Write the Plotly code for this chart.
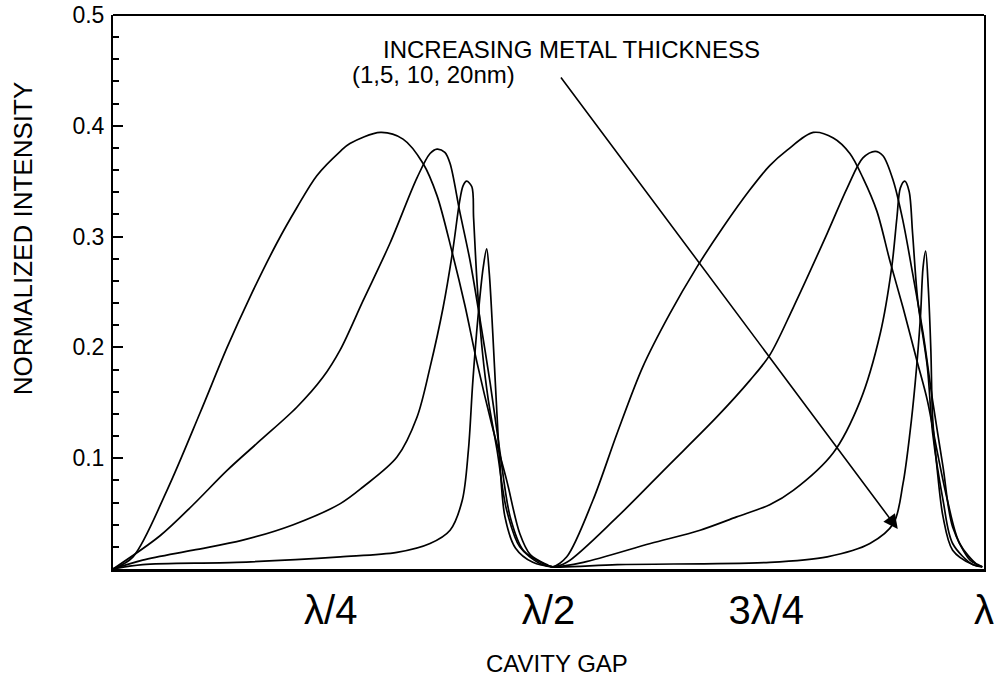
import plotly.graph_objects as go

# Cavity gap in units of wavelength (lambda), normalized intensity
gap_1nm = [0.0, 0.023, 0.062, 0.100, 0.131, 0.157, 0.188, 0.211, 0.234, 0.261, 0.272, 0.307,
           0.333, 0.356, 0.372, 0.389, 0.404, 0.418, 0.435, 0.452, 0.467, 0.479, 0.498, 0.505,
           0.521, 0.551, 0.579, 0.608, 0.639, 0.670, 0.700, 0.731, 0.754, 0.774, 0.804, 0.827,
           0.846, 0.861, 0.877, 0.892, 0.907, 0.923, 0.935, 0.946, 0.958, 0.972, 0.992, 0.998]
int_1nm = [0.0, 0.011, 0.071, 0.141, 0.200, 0.245, 0.294, 0.326, 0.355, 0.377, 0.384, 0.394,
           0.388, 0.366, 0.337, 0.287, 0.238, 0.186, 0.130, 0.080, 0.032, 0.013, 0.004, 0.002,
           0.011, 0.062, 0.123, 0.182, 0.230, 0.272, 0.308, 0.342, 0.364, 0.378, 0.394, 0.389,
           0.375, 0.353, 0.323, 0.278, 0.236, 0.188, 0.152, 0.107, 0.062, 0.023, 0.004, 0.002]

gap_5nm = [0.0, 0.054, 0.092, 0.131, 0.169, 0.211, 0.241, 0.261, 0.287, 0.318, 0.349, 0.364,
           0.372, 0.381, 0.387, 0.398, 0.410, 0.421, 0.433, 0.444, 0.456, 0.471, 0.494, 0.505,
           0.521, 0.579, 0.636, 0.693, 0.731, 0.754, 0.781, 0.820, 0.843, 0.861, 0.875, 0.884,
           0.896, 0.907, 0.918, 0.930, 0.941, 0.953, 0.964, 0.984, 0.993, 0.998]
int_5nm = [0.0, 0.030, 0.058, 0.089, 0.116, 0.146, 0.173, 0.198, 0.242, 0.294, 0.353, 0.375,
           0.379, 0.376, 0.366, 0.323, 0.278, 0.227, 0.168, 0.107, 0.047, 0.017, 0.005, 0.002,
           0.006, 0.047, 0.092, 0.137, 0.170, 0.193, 0.236, 0.303, 0.344, 0.371, 0.377, 0.373,
           0.350, 0.314, 0.267, 0.213, 0.152, 0.092, 0.038, 0.008, 0.004, 0.002]

gap_10nm = [0.0, 0.034, 0.092, 0.149, 0.207, 0.261, 0.287, 0.326, 0.349, 0.364, 0.379, 0.390,
            0.398, 0.402, 0.406, 0.412, 0.414, 0.418, 0.424, 0.431, 0.441, 0.452, 0.467, 0.490,
            0.505, 0.540, 0.617, 0.674, 0.716, 0.754, 0.781, 0.827, 0.858, 0.881, 0.894, 0.900,
            0.904, 0.909, 0.914, 0.918, 0.924, 0.935, 0.941, 0.953, 0.964, 0.987, 0.998]
int_10nm = [0.0, 0.008, 0.017, 0.026, 0.040, 0.059, 0.074, 0.101, 0.137, 0.182, 0.236, 0.287,
            0.332, 0.346, 0.350, 0.345, 0.317, 0.258, 0.197, 0.152, 0.107, 0.053, 0.020, 0.005,
            0.002, 0.006, 0.023, 0.035, 0.047, 0.058, 0.071, 0.105, 0.152, 0.213, 0.272, 0.317,
            0.344, 0.350, 0.341, 0.303, 0.242, 0.182, 0.123, 0.062, 0.023, 0.004, 0.002]

gap_20nm = [0.0, 0.034, 0.142, 0.261, 0.326, 0.364, 0.387, 0.401, 0.408, 0.413, 0.419, 0.425,
            0.429, 0.432, 0.436, 0.440, 0.444, 0.450, 0.462, 0.482, 0.505,
            0.579, 0.754, 0.820, 0.869, 0.896, 0.907, 0.915, 0.921, 0.927, 0.930, 0.933,
            0.936, 0.939, 0.941, 0.946, 0.953, 0.964, 0.987, 0.998]
int_20nm = [0.0, 0.004, 0.006, 0.011, 0.015, 0.023, 0.035, 0.062, 0.107, 0.168, 0.227, 0.272,
            0.289, 0.267, 0.213, 0.152, 0.098, 0.047, 0.019, 0.006, 0.002,
            0.004, 0.006, 0.011, 0.023, 0.041, 0.077, 0.123, 0.168, 0.227, 0.272, 0.287,
            0.254, 0.197, 0.137, 0.092, 0.047, 0.017, 0.004, 0.002]

series = [(gap_1nm, int_1nm), (gap_5nm, int_5nm), (gap_10nm, int_10nm), (gap_20nm, int_20nm)]

x_tickvals = [0.25, 0.5, 0.75, 1.0]
x_ticktext = ["λ/4", "λ/2", "3λ/4", "λ"]
y_tickvals = [0.1, 0.2, 0.3, 0.4, 0.5]
y_ticktext = ["0.1", "0.2", "0.3", "0.4", "0.5"]

FONT = "Liberation Sans, Arial, sans-serif"

fig = go.Figure()
for gx, gy in series:
    fig.add_trace(go.Scatter(x=gx, y=gy, mode="lines",
                             line=dict(color="black", width=1.7, shape="spline", smoothing=0.9),
                             showlegend=False, hoverinfo="skip"))

# arrow
fig.add_annotation(x=0.901, y=0.036, ax=0.513, ay=0.445, xref="x", yref="y", axref="x", ayref="y",
                   showarrow=True, arrowhead=2, arrowsize=1.8, arrowwidth=1.6, arrowcolor="black", text="")
fig.add_annotation(x=0.308, y=0.469, xref="x", yref="y", xanchor="left", yanchor="middle",
                   text="INCREASING METAL THICKNESS", showarrow=False,
                   font=dict(family=FONT, size=24, color="black"))
fig.add_annotation(x=0.272, y=0.446, xref="x", yref="y", xanchor="left", yanchor="middle",
                   text="(1,5, 10, 20nm)", showarrow=False,
                   font=dict(family=FONT, size=24, color="black"))
# axis titles
fig.add_annotation(x=-0.104, y=0.596, xref="paper", yref="paper", xanchor="center", yanchor="middle",
                   text="NORMALIZED INTENSITY", textangle=-90, showarrow=False,
                   font=dict(family=FONT, size=26, color="black"))
fig.add_annotation(x=0.510, y=-0.171, xref="paper", yref="paper", xanchor="center", yanchor="middle",
                   text="CAVITY GAP", showarrow=False,
                   font=dict(family=FONT, size=24, color="black"))
# top border
fig.add_shape(type="line", xref="paper", yref="paper", x0=0, x1=1, y0=1, y1=1,
              line=dict(color="black", width=2))

fig.update_layout(
    width=997, height=688,
    margin=dict(l=113, r=13, t=15, b=119, autoexpand=False),
    paper_bgcolor="white", plot_bgcolor="white",
    font=dict(family=FONT, color="black"),
    xaxis=dict(range=[0, 1.0], tickvals=x_tickvals, ticktext=x_ticktext, ticks="",
               showgrid=False, zeroline=False, showline=True, linecolor="black", linewidth=3,
               automargin=False, ticklabeloverflow="allow",
               tickfont=dict(family=FONT, size=40, color="black"), ticklabelstandoff=4),
    yaxis=dict(range=[0, 0.5], tickvals=y_tickvals, ticktext=y_ticktext, ticks="inside",
               ticklen=10, tickwidth=1.5, tickcolor="black", automargin=False,
               ticklabeloverflow="allow",
               minor=dict(ticks="inside", ticklen=6, dtick=0.02, tickcolor="black", tickwidth=1.5),
               showgrid=False, zeroline=False, showline=True, linecolor="black", linewidth=2,
               mirror=True, tickfont=dict(family=FONT, size=23, color="black"), ticklabelstandoff=2),
)

fig.write_html("out.html", config={"displayModeBar": False},
               post_script="document.body.style.margin='0';document.body.style.overflow='hidden';")
